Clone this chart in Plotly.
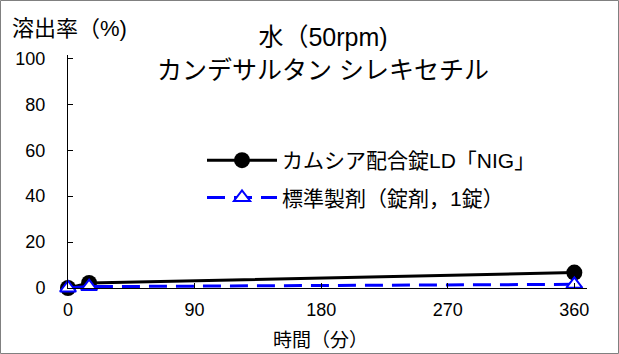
import plotly.graph_objects as go

# Dissolution profile data (time in minutes, dissolution %)
time_min = [0, 15, 360]
test_product = [0, 2.2, 6.7]
reference_product = [0, 0.6, 1.6]

name_test = "カムシア配合錠LD「NIG」"
name_ref = "標準製剤（錠剤，1錠）"

x_ticks = [0, 90, 180, 270, 360]
y_ticks = [0, 20, 40, 60, 80, 100]

FONT = "Arial, Liberation Sans, Noto Sans CJK JP"

fig = go.Figure()
fig.add_trace(go.Scatter(
    x=time_min, y=test_product, name=name_test, mode="lines+markers",
    line=dict(color="black", width=3),
    marker=dict(symbol="circle", size=16, color="black"),
    legendgroup="a", cliponaxis=False,
))
fig.add_trace(go.Scatter(
    x=time_min, y=reference_product, name=name_ref, mode="lines+markers",
    line=dict(color="#0000ff", width=3, dash="18px,9px"),
    marker=dict(symbol="triangle-up", size=14, color="white",
                line=dict(color="#0000ff", width=2)),
    legendgroup="b", cliponaxis=False,
))

W, H = 619, 354
L, R, T, B = 68, 32, 55, 66
pw = W - L - R
ph = H - T - B


def px(x):
    return (x - L) / pw


def py(y):
    return (H - B - y) / ph


fig.update_layout(
    width=W, height=H,
    margin=dict(l=L, r=R, t=T, b=B),
    paper_bgcolor="white", plot_bgcolor="white",
    font=dict(family=FONT, size=18, color="black"),
    showlegend=True,
    legend=dict(x=px(202), y=py(179), xanchor="left", yanchor="middle",
                bgcolor="rgba(0,0,0,0)", font=dict(size=21),
                itemwidth=70, tracegroupgap=7, traceorder="grouped"),
    xaxis=dict(range=[0, 369], tickvals=x_ticks, showgrid=False, zeroline=False,
               showline=True, linecolor="black", linewidth=1,
               ticks="inside", ticklen=5, tickcolor="black",
               ticklabelstandoff=5, tickfont=dict(size=18)),
    yaxis=dict(range=[0, 101.5], tickvals=y_ticks, showgrid=False, zeroline=False,
               showline=True, linecolor="black", linewidth=1,
               ticks="inside", ticklen=5, tickcolor="black",
               ticklabelstandoff=18, tickfont=dict(size=18)),
    annotations=[
        dict(text="水（50rpm)<br>カンデサルタン シレキセチル", xref="paper", yref="paper",
             x=px(323), y=py(53), xanchor="center", yanchor="middle",
             showarrow=False, font=dict(size=25), align="center"),
        dict(text="溶出率（%)", xref="paper", yref="paper",
             x=px(10), y=py(28), xanchor="left", yanchor="middle",
             showarrow=False, font=dict(size=22)),
        dict(text="時間（分）", xref="paper", yref="paper",
             x=px(320), y=py(340), xanchor="center", yanchor="middle",
             showarrow=False, font=dict(size=19)),
    ],
    shapes=[dict(type="rect", xref="paper", yref="paper",
                 x0=px(0.5), x1=px(W - 0.5), y0=py(H - 0.5), y1=py(0.5),
                 line=dict(color="#808080", width=1))],
)

fig.write_html("out.html")
